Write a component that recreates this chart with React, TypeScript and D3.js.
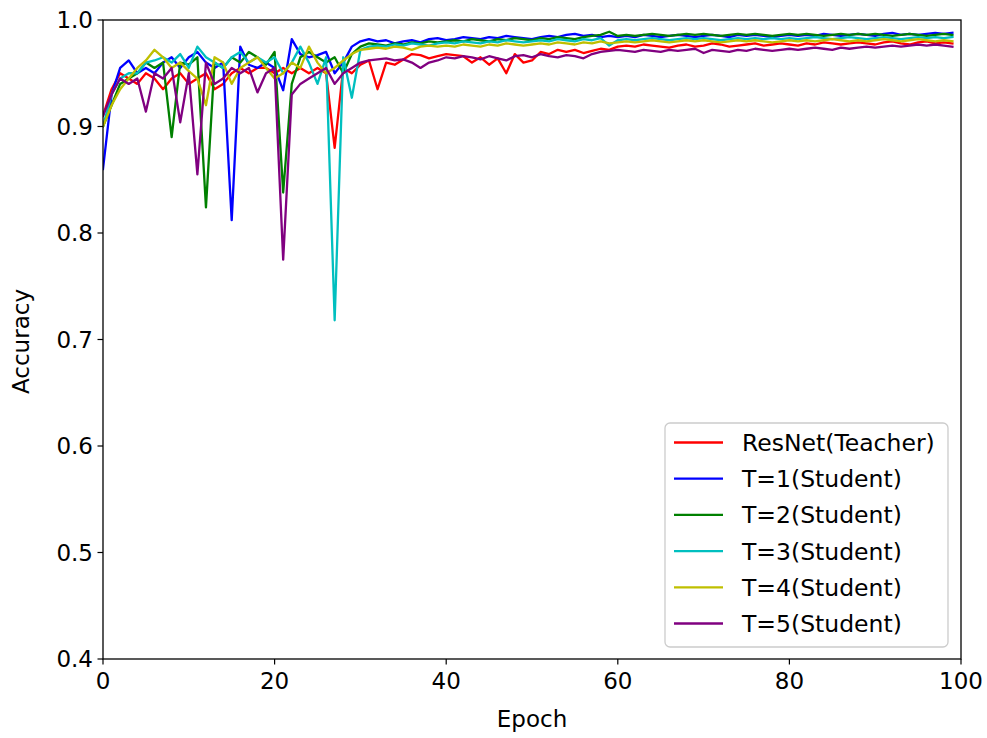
import React from "react";
import * as d3 from "d3";

const epochs: number[] = d3.range(0, 100);

const resnetTeacher: number[] = [
  0.910, 0.935, 0.950, 0.945, 0.940, 0.950, 0.945, 0.935, 0.945, 0.950,
  0.940, 0.945, 0.950, 0.935, 0.940, 0.950, 0.955, 0.950, 0.955, 0.955,
  0.950, 0.955, 0.950, 0.955, 0.950, 0.955, 0.950, 0.880, 0.955, 0.950,
  0.958, 0.962, 0.935, 0.960, 0.958, 0.963, 0.968, 0.967, 0.964, 0.966,
  0.968, 0.967, 0.966, 0.960, 0.965, 0.958, 0.964, 0.950, 0.968, 0.960,
  0.962, 0.970, 0.968, 0.972, 0.970, 0.972, 0.969, 0.971, 0.973, 0.972,
  0.975, 0.976, 0.975, 0.977, 0.976, 0.975, 0.974, 0.976, 0.977, 0.975,
  0.976, 0.978, 0.977, 0.975, 0.976, 0.977, 0.978, 0.976, 0.977, 0.978,
  0.977, 0.976, 0.978, 0.977, 0.979, 0.978, 0.977, 0.978, 0.979, 0.978,
  0.977, 0.979, 0.980, 0.978, 0.977, 0.979, 0.980, 0.978, 0.979, 0.978,
];

const studentT1: number[] = [
  0.860, 0.930, 0.955, 0.962, 0.950, 0.955, 0.950, 0.960, 0.965, 0.955,
  0.965, 0.970, 0.960, 0.955, 0.960, 0.812, 0.975, 0.958, 0.955, 0.960,
  0.955, 0.934, 0.982, 0.968, 0.965, 0.967, 0.970, 0.950, 0.960, 0.975,
  0.980, 0.982, 0.980, 0.981, 0.978, 0.980, 0.981, 0.979, 0.982, 0.983,
  0.981, 0.982, 0.984, 0.983, 0.982, 0.984, 0.983, 0.985, 0.984, 0.983,
  0.982, 0.984, 0.985, 0.984, 0.986, 0.987, 0.985, 0.986, 0.984, 0.985,
  0.984, 0.985, 0.984, 0.986, 0.985, 0.984, 0.985, 0.986, 0.985, 0.984,
  0.985, 0.986, 0.985, 0.984, 0.986, 0.985, 0.986, 0.985, 0.984, 0.985,
  0.986, 0.985, 0.986, 0.985, 0.987, 0.986, 0.985, 0.986, 0.987, 0.986,
  0.985, 0.987, 0.988, 0.986, 0.987, 0.986, 0.987, 0.988, 0.987, 0.988,
];

const studentT2: number[] = [
  0.900, 0.920, 0.940, 0.945, 0.950, 0.960, 0.955, 0.960, 0.890, 0.960,
  0.958, 0.965, 0.824, 0.960, 0.955, 0.965, 0.960, 0.970, 0.965, 0.958,
  0.970, 0.838, 0.940, 0.965, 0.970, 0.965, 0.960, 0.965, 0.950, 0.968,
  0.975, 0.978, 0.977, 0.976, 0.978, 0.977, 0.979, 0.978, 0.980, 0.979,
  0.980, 0.981, 0.980, 0.982, 0.981, 0.980, 0.982, 0.981, 0.983, 0.982,
  0.981, 0.983, 0.982, 0.984, 0.983, 0.982, 0.984, 0.985, 0.986, 0.989,
  0.985, 0.986, 0.985, 0.986, 0.987, 0.986, 0.985, 0.986, 0.987, 0.986,
  0.987, 0.986, 0.985, 0.986, 0.987, 0.986, 0.987, 0.986, 0.985, 0.986,
  0.987, 0.986, 0.987, 0.986, 0.985, 0.986, 0.987, 0.986, 0.987, 0.986,
  0.987, 0.986, 0.985, 0.986, 0.987, 0.986, 0.985, 0.986, 0.987, 0.986,
];

const studentT3: number[] = [
  0.900, 0.930, 0.945, 0.950, 0.950, 0.960, 0.962, 0.965, 0.960, 0.968,
  0.955, 0.975, 0.965, 0.960, 0.955, 0.965, 0.970, 0.960, 0.965, 0.960,
  0.965, 0.950, 0.960, 0.975, 0.960, 0.940, 0.965, 0.718, 0.965, 0.927,
  0.972, 0.975, 0.976, 0.975, 0.977, 0.976, 0.978, 0.977, 0.976, 0.978,
  0.979, 0.978, 0.980, 0.979, 0.978, 0.980, 0.979, 0.981, 0.980, 0.979,
  0.980, 0.981, 0.980, 0.982, 0.981, 0.980, 0.982, 0.981, 0.983, 0.976,
  0.981, 0.982, 0.981, 0.982, 0.983, 0.982, 0.981, 0.982, 0.983, 0.982,
  0.983, 0.982, 0.981, 0.982, 0.983, 0.982, 0.983, 0.982, 0.983, 0.982,
  0.983, 0.982, 0.983, 0.984, 0.983, 0.982, 0.983, 0.984, 0.983, 0.982,
  0.983, 0.984, 0.983, 0.982, 0.983, 0.984, 0.983, 0.984, 0.983, 0.984,
];

const studentT4: number[] = [
  0.900, 0.920, 0.935, 0.945, 0.955, 0.962, 0.972, 0.965, 0.955, 0.960,
  0.952, 0.945, 0.920, 0.965, 0.960, 0.940, 0.955, 0.960, 0.965, 0.955,
  0.945, 0.950, 0.960, 0.955, 0.975, 0.960, 0.950, 0.955, 0.962, 0.968,
  0.972, 0.973, 0.974, 0.973, 0.975, 0.974, 0.972, 0.975, 0.976, 0.975,
  0.976, 0.975, 0.977, 0.976, 0.975, 0.977, 0.976, 0.978, 0.977, 0.976,
  0.977, 0.978, 0.977, 0.979, 0.978, 0.977, 0.979, 0.978, 0.980, 0.978,
  0.979, 0.980, 0.979, 0.980, 0.981, 0.980, 0.979, 0.980, 0.981, 0.980,
  0.981, 0.980, 0.979, 0.980, 0.981, 0.980, 0.981, 0.980, 0.979, 0.980,
  0.981, 0.980, 0.981, 0.980, 0.981, 0.982, 0.981, 0.980, 0.981, 0.980,
  0.981, 0.982, 0.981, 0.980, 0.981, 0.982, 0.981, 0.980, 0.981, 0.980,
];

const studentT5: number[] = [
  0.910, 0.930, 0.945, 0.940, 0.945, 0.914, 0.950, 0.945, 0.955, 0.904,
  0.950, 0.855, 0.960, 0.940, 0.945, 0.955, 0.950, 0.955, 0.932, 0.950,
  0.955, 0.775, 0.930, 0.940, 0.945, 0.950, 0.955, 0.940, 0.950, 0.955,
  0.960, 0.962, 0.963, 0.964, 0.962, 0.963, 0.960, 0.955, 0.960, 0.962,
  0.965, 0.964, 0.966, 0.965, 0.963, 0.966, 0.964, 0.962, 0.966, 0.967,
  0.965, 0.968, 0.966, 0.965, 0.967, 0.966, 0.964, 0.968, 0.970, 0.971,
  0.972, 0.971, 0.970, 0.972, 0.971, 0.970, 0.972, 0.971, 0.972, 0.973,
  0.969, 0.972, 0.971, 0.970, 0.972, 0.971, 0.973, 0.972, 0.971, 0.972,
  0.973, 0.972, 0.973, 0.974, 0.973, 0.972, 0.974, 0.973, 0.974, 0.975,
  0.974, 0.975, 0.976, 0.975, 0.976, 0.977, 0.976, 0.977, 0.976, 0.975,
];

const seriesNames: string[] = [
  "ResNet(Teacher)",
  "T=1(Student)",
  "T=2(Student)",
  "T=3(Student)",
  "T=4(Student)",
  "T=5(Student)",
];
const seriesColors: string[] = ["#ff0000", "#0000ff", "#008000", "#00bfbf", "#bfbf00", "#800080"];
const seriesValues: number[][] = [resnetTeacher, studentT1, studentT2, studentT3, studentT4, studentT5];

const xTicks: number[] = [0, 20, 40, 60, 80, 100];
const yTicks: number[] = [0.4, 0.5, 0.6, 0.7, 0.8, 0.9, 1.0];

const W = 987;
const H = 738;
const M = { left: 103, right: 961, top: 20, bottom: 659 };
const FONT = "'DejaVu Sans', sans-serif";
const FS = 23;
const LFS = 23.5;

export default function App() {
  const x = d3.scaleLinear().domain([0, 100]).range([M.left, M.right]);
  const y = d3.scaleLinear().domain([0.4, 1.0]).range([M.bottom, M.top]);
  const line = d3
    .line<number>()
    .x((_, i) => x(epochs[i]))
    .y((d) => y(d));

  const legX = 665;
  const legY = 423;
  const legW = 283;
  const legH = 224;
  const rowY0 = 442.5;
  const rowStep = 36.2;

  return (
    <div style={{ position: "absolute", left: 0, top: 0 }}>
      <svg width={W} height={H} style={{ display: "block", background: "#fff" }}>
        <defs>
          <clipPath id="plotclip">
            <rect x={M.left} y={M.top} width={M.right - M.left} height={M.bottom - M.top} />
          </clipPath>
        </defs>
        <g clipPath="url(#plotclip)">
          {seriesValues.map((vals, k) => (
            <path
              key={seriesNames[k]}
              d={line(vals) || ""}
              fill="none"
              stroke={seriesColors[k]}
              strokeWidth={2.3}
              strokeLinejoin="round"
              strokeLinecap="square"
            />
          ))}
        </g>
        <rect
          x={M.left}
          y={M.top}
          width={M.right - M.left}
          height={M.bottom - M.top}
          fill="none"
          stroke="#000"
          strokeWidth={1.3}
        />
        {xTicks.map((t) => (
          <g key={"x" + t}>
            <line x1={x(t)} x2={x(t)} y1={M.bottom} y2={M.bottom + 5.5} stroke="#000" strokeWidth={1.2} />
            <text
              x={x(t)}
              y={M.bottom + 30}
              textAnchor="middle"
              fontFamily={FONT}
              fontSize={FS}
              fill="#000"
            >
              {t}
            </text>
          </g>
        ))}
        {yTicks.map((t) => (
          <g key={"y" + t}>
            <line x1={M.left - 5.5} x2={M.left} y1={y(t)} y2={y(t)} stroke="#000" strokeWidth={1.2} />
            <text
              x={M.left - 10}
              y={y(t)}
              dy="0.36em"
              textAnchor="end"
              fontFamily={FONT}
              fontSize={FS}
              fill="#000"
            >
              {t.toFixed(1)}
            </text>
          </g>
        ))}
        <text
          x={(M.left + M.right) / 2}
          y={727}
          textAnchor="middle"
          fontFamily={FONT}
          fontSize={FS}
          fill="#000"
        >
          Epoch
        </text>
        <text
          transform={`translate(29, ${(M.top + M.bottom) / 2 + 2}) rotate(-90)`}
          textAnchor="middle"
          fontFamily={FONT}
          fontSize={FS}
          fill="#000"
        >
          Accuracy
        </text>
        <rect
          x={legX}
          y={legY}
          width={legW}
          height={legH}
          rx={5}
          ry={5}
          fill="#fff"
          fillOpacity={0.8}
          stroke="#cccccc"
          strokeWidth={1.3}
        />
        {seriesNames.map((name, k) => {
          const ry = rowY0 + k * rowStep;
          return (
            <g key={"leg" + name}>
              <line x1={674} x2={723} y1={ry} y2={ry} stroke={seriesColors[k]} strokeWidth={2.3} />
              <text
                x={742}
                y={ry}
                dy="0.36em"
                fontFamily={FONT}
                fontSize={LFS}
                fill="#000"
              >
                {name}
              </text>
            </g>
          );
        })}
      </svg>
    </div>
  );
}
